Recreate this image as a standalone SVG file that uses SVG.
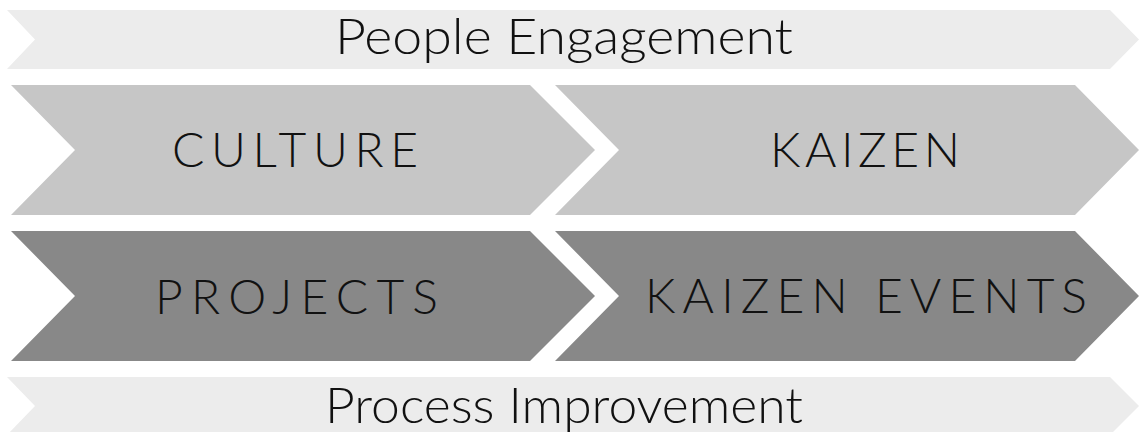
<svg xmlns="http://www.w3.org/2000/svg" width="1143" height="432" viewBox="0 0 1143 432">
<style>
.t{font-family:Lato,"Open Sans","Liberation Sans",sans-serif;font-weight:300;fill:#111}
.mix{font-size:50px}
.cap{font-size:48px}
.light{fill:#ececec}
.mid{fill:#c6c6c6}
.dark{fill:#888888}
</style>
<rect width="1143" height="432" fill="#fff"/>
<g id="people-engagement">
<polygon class="light" points="7,10 1110,10 1139,39.5 1110,69 7,69 35,39.5"/>
<text class="t mix" x="335" y="54" textLength="458" lengthAdjust="spacingAndGlyphs">People Engagement</text>
</g>
<g id="culture">
<polygon class="mid" points="11,85 530,85 595,150 530,215 11,215 75,150"/>
<text class="t cap" x="172" y="167" textLength="246" lengthAdjust="spacing">CULTURE</text>
</g>
<g id="kaizen">
<polygon class="mid" points="555,85 1075,85 1139,150 1075,215 555,215 619,150"/>
<text class="t cap" x="770" y="167" textLength="190" lengthAdjust="spacing">KAIZEN</text>
</g>
<g id="projects">
<polygon class="dark" points="11,231 530,231 595,296 530,361 11,361 75,296"/>
<text class="t cap" x="155" y="314" textLength="283" lengthAdjust="spacing">PROJECTS</text>
</g>
<g id="kaizen-events">
<polygon class="dark" points="555,231 1075,231 1139,296 1075,361 555,361 619,296"/>
<text class="t cap" x="645" y="313" textLength="442" lengthAdjust="spacing">KAIZEN EVENTS</text>
</g>
<g id="process-improvement">
<polygon class="light" points="7,377 1110,377 1139,406 1110,435 7,435 35,406"/>
<text class="t mix" x="325" y="423" textLength="478" lengthAdjust="spacingAndGlyphs">Process Improvement</text>
</g>
<g id="connectors"/>
</svg>
